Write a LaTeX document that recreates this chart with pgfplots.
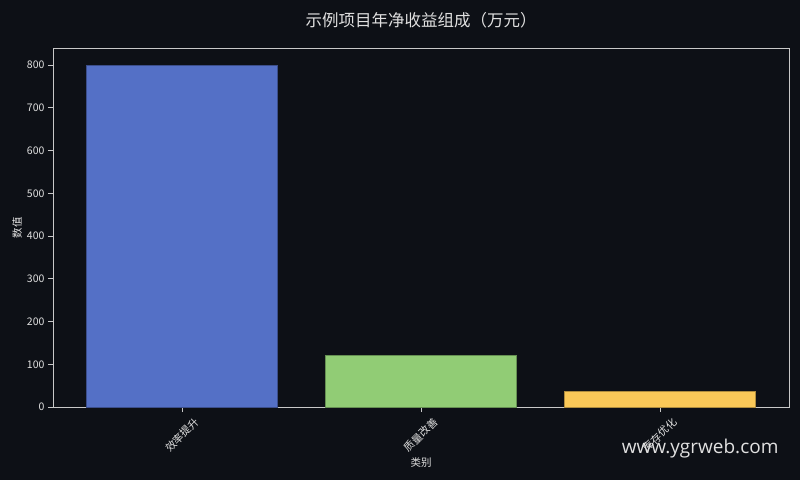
\documentclass[border=0pt]{standalone}
\usepackage{fontspec}
\setmainfont{Noto Sans CJK SC}
\newfontfamily\wmfont{Open Sans}
\usepackage{graphicx}
\usepackage{pgfplots}
\pgfplotsset{compat=1.18}

\definecolor{bg}{HTML}{0D1016}
\definecolor{fg}{HTML}{E0E0E0}
\definecolor{spine}{HTML}{C8C8C8}
\definecolor{cblue}{HTML}{5470C6}
\definecolor{cgreen}{HTML}{91CC75}
\definecolor{cyellow}{HTML}{FAC858}

\begin{document}
\begin{tikzpicture}
    \fill[bg] (0,0) rectangle (800pt,480pt);
    \useasboundingbox (0,0) rectangle (800pt,480pt);
    \begin{axis}[
            at={(53pt,73pt)},
            anchor=south west,
            scale only axis,
            width=736pt,
            height=359pt,
            xmin=-0.54, xmax=2.54,
            ymin=0, ymax=840,
            xtick={0,1,2},
            xticklabels={
                    \rotatebox{45}{效率提升},
                    \rotatebox{45}{质量改善},
                    \rotatebox{45}{库存优化}
                },
            ytick={0,100,200,300,400,500,600,700,800},
            /pgf/number format/assume math mode=true,
            tick label style={font=\fontsize{10.5}{12}\selectfont, text=fg},
            xticklabel style={anchor=north, yshift=-1pt},
            axis line style={spine, line width=0.8pt},
            tick style={spine, line width=0.8pt},
            tick align=outside,
            major tick length=5pt,
            xtick pos=bottom,
            ytick pos=left,
            xlabel={类别},
            ylabel={数值},
            label style={font=\fontsize{10.5}{12}\selectfont, text=fg},
            ylabel style={yshift=-2pt},
            xlabel style={yshift=2pt},
            ybar,
            bar width=0.8,
            bar shift=0pt,
        ]
        \addplot[fill=cblue, draw=cblue!70!black, line width=0.6pt] coordinates {(0,800)};
        \addplot[fill=cgreen, draw=cgreen!70!black, line width=0.6pt] coordinates {(1,120)};
        \addplot[fill=cyellow, draw=cyellow!70!black, line width=0.6pt] coordinates {(2,36)};
    \end{axis}
    \node[text=fg, font=\fontsize{16.5}{19}\selectfont] at (421pt,460pt) {示例项目年净收益组成（万元）};
    \node[text=fg, font=\wmfont\fontsize{19}{22}\selectfont, anchor=east] at (782pt,31pt) {www.ygrweb.com};
\end{tikzpicture}
\end{document}
